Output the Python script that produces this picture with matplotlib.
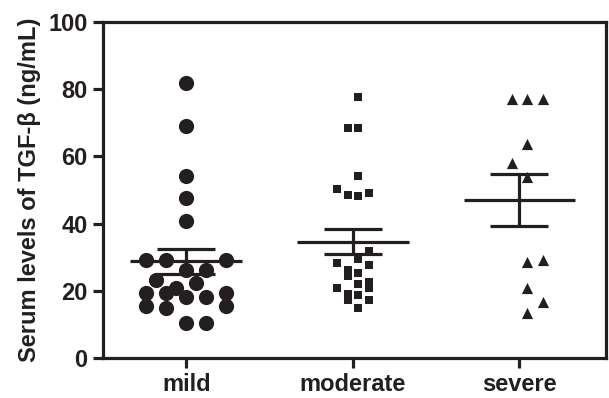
import matplotlib
matplotlib.use('Agg')
import matplotlib.pyplot as plt
import numpy as np

plt.rcParams['font.family'] = ['Liberation Sans', 'DejaVu Sans']
plt.rcParams['font.weight'] = 'bold'

INK = '#231f20'

groups = ['mild', 'moderate', 'severe']

# values (ng/mL); slots = column position inside each group
mild_values = [81.8, 69.0, 54.2, 47.6, 40.8, 29.2, 29.2, 29.2, 26.2, 26.2, 23.2, 22.3,
               20.8, 19.3, 19.3, 19.3, 18.1, 18.1, 15.5, 15.5, 14.9, 10.4, 10.4]
mild_slots = [0, 0, 0, 0, 0, -2, -1, 2, 0, 1, -1.5, 0.5,
              -0.5, -2, -1, 2, 1, 0, -2, 2, -1, 0, 1]

moderate_values = [77.7, 68.5, 68.5, 54.2, 50.3, 48.5, 48.2, 49.1, 31.8, 29.5, 28.3, 27.7,
                   26.2, 24.4, 25.3, 22.6, 20.8, 22.0, 20.8, 19.0, 17.3, 18.8, 17.3, 14.9]
moderate_slots = [0.5, -0.5, 0.5, 0.5, -1.5, -0.5, 0.5, 1.5, 1.5, 0.5, -1.5, 1.5,
                  -0.5, -0.5, 0.5, 1.5, 1.5, 0.5, -1.5, -0.5, -0.5, 0.5, 1.5, 0.5]

severe_values = [77.2, 77.2, 77.2, 63.7, 58.0, 53.9, 28.6, 29.2, 20.8, 16.7, 13.4]
severe_slots = [-0.5, 0.5, 1.5, 0.5, -0.5, 0.5, 0.5, 1.5, 0.5, 1.5, 0.5]

yticks = [0, 20, 40, 60, 80, 100]
ylabel = 'Serum levels of TGF-\u03b2 (ng/mL)'


def draw_group(ax, xc, values, slots, step, marker, size):
    vals = np.asarray(values)
    xs = xc + np.asarray(slots) * step
    ax.scatter(xs, vals, marker=marker, s=size, color=INK, linewidths=0, zorder=2)
    mean = vals.mean()
    sem = vals.std(ddof=1) / np.sqrt(len(vals))
    ax.hlines(mean, xc - 0.335, xc + 0.335, color=INK, lw=2.3, zorder=3)
    ax.hlines([mean - sem, mean + sem], xc - 0.175, xc + 0.175, color=INK, lw=2.3, zorder=3)
    ax.vlines(xc, mean - sem, mean + sem, color=INK, lw=2.3, zorder=3)


fig = plt.figure(figsize=(6.09, 3.98), dpi=100)
ax = fig.add_axes([0.169, 0.1005, 0.826, 0.8445])

draw_group(ax, 0, mild_values, mild_slots, 0.12, 'o', 120)
draw_group(ax, 1, moderate_values, moderate_slots, 0.063, 's', 28)
draw_group(ax, 2, severe_values, severe_slots, 0.093, '^', 65)

ax.set_xlim(-0.5, 2.52)
ax.set_ylim(0, 100)
ax.set_xticks(range(len(groups)))
ax.set_xticklabels(groups)
ax.set_yticks(yticks)
ax.set_ylabel(ylabel, fontsize=17, fontweight='bold', color=INK, labelpad=5)

for s in ax.spines.values():
    s.set_linewidth(2.3)
    s.set_color(INK)
ax.tick_params(axis='both', width=2.3, length=7, color=INK, labelcolor=INK, labelsize=17)
ax.tick_params(axis='y', pad=4)
ax.tick_params(axis='x', pad=4)

fig.savefig('out.png', dpi=100)
